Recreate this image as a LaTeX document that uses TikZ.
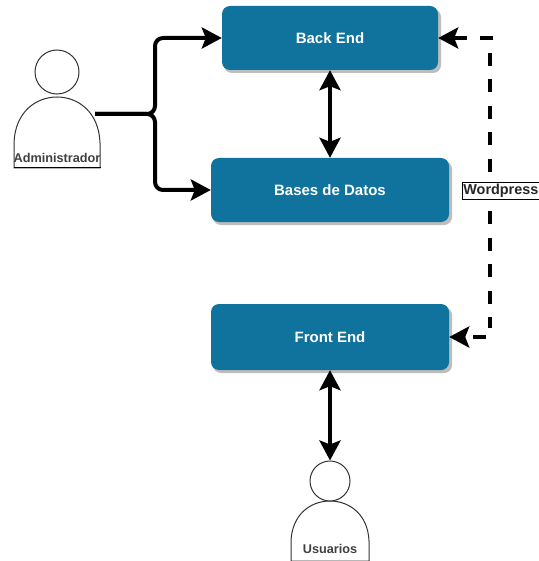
\documentclass[tikz,border=0pt]{standalone}
\usepackage{fontspec}
\setmainfont{Liberation Sans}
\usetikzlibrary{arrows.meta,positioning,calc}
\definecolor{boxblue}{HTML}{10739E}
\definecolor{shade}{HTML}{BDBDBD}
\definecolor{actorline}{HTML}{333333}
\tikzset{
  x=1pt,y=-1pt,
  boxnode/.style={draw=none,fill=boxblue,rounded corners=8pt,text=white,font=\bfseries\fontsize{15}{17}\selectfont,inner sep=0pt,align=center},
  shadowbox/.style={fill=shade,rounded corners=8pt,draw=none},
  actorpart/.style={draw=actorline,line width=1pt,fill=white},
  actorlabel/.style={font=\fontsize{12.7}{14}\selectfont\bfseries,text=black!75,inner sep=0pt},
  link/.style={line width=4pt,draw=black,line join=round},
  both/.style={link,{Stealth[length=20pt,width=21pt,inset=4pt]}-{Stealth[length=20pt,width=21pt,inset=4pt]}},
  single/.style={link,-{Stealth[length=20pt,width=21pt,inset=4pt]},rounded corners=8pt},
  dashlink/.style={link,-{Stealth[length=20pt,width=21pt,inset=4pt]}},
  wp/.style={draw=black,line width=0.8pt,fill=white,font=\fontsize{14.4}{16}\selectfont\bfseries,inner xsep=1pt,inner ysep=2pt,text=black!85},
}
\begin{document}
\begin{tikzpicture}
\useasboundingbox (0,0) rectangle (538,561);
\fill[white] (0,0) rectangle (538,561);
% shadows
\fill[shadowbox] (224,9) rectangle (441,73);
\fill[shadowbox] (213,161) rectangle (452,225);
\fill[shadowbox] (213,307) rectangle (452,373);
% boxes
\node[boxnode,minimum width=216pt,minimum height=64pt] (back) at (330,38) {\raisebox{-1pt}{Back End}};
\node[boxnode,minimum width=238pt,minimum height=64pt] (data) at (330,190) {\raisebox{-1pt}{Bases de Datos}};
\node[boxnode,minimum width=238pt,minimum height=66pt] (front) at (330,337) {\raisebox{-1pt}{Front End}};
% admin actor
\path[actorpart] (14,168) -- (14,143) .. controls (15,112) and (36,97) .. (57,97) .. controls (78,97) and (99,112) .. (100,143) -- (100,168) -- cycle;
\draw[black,line width=1pt] (13.5,168) -- (100.5,168);
\node[actorpart,circle,minimum size=44pt,inner sep=0pt] (adminhead) at (57,72) {};
\node[actorlabel] (adminlabel) at (57,158) {Administrador};
\coordinate (adminport) at (95,114);
\coordinate (fork) at (155,114);
% user actor
\path[actorpart] (291,561) -- (291,541) .. controls (292,515) and (310,501) .. (330,501) .. controls (350,501) and (368,515) .. (369,541) -- (369,561) -- cycle;
\node[actorpart,circle,minimum size=40pt,inner sep=0pt] (userhead) at (330,481) {};
\node[actorlabel] (userlabel) at (330,549) {Usuarios};
% connectors
\draw[single] (adminport) -- (fork) -- (fork |- back.west) -- (back.west);
\draw[single] (adminport) -- (fork) -- (fork |- data.west) -- (data.west);
\draw[both] (back.south) -- (data.north);
\draw[both] (front.south) -- (userhead.north);
\coordinate (wptop) at (493,38);
\coordinate (wpbot) at (486,337);
\draw[dashlink,dash pattern=on 13pt off 13pt] (wptop) -- (back.east);
\draw[link,dash pattern=on 13pt off 13.4pt] (490,53) -- (490,328);
\draw[dashlink,dash pattern=on 13pt off 30pt] (wpbot) -- (front.east);
\node[wp,anchor=west] (wplabel) at (462,191) {Wordpress};
\end{tikzpicture}
\end{document}
